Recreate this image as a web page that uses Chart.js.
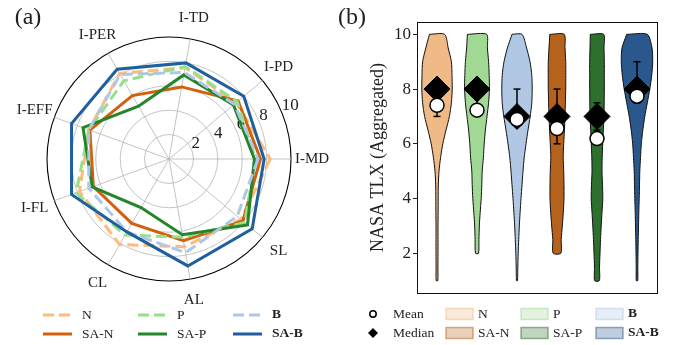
<!DOCTYPE html>
<html>
<head>
<meta charset="utf-8">
<script src="https://cdn.jsdelivr.net/npm/chart.js@4.4.0/dist/chart.umd.min.js"></script>
<style>
html, body { margin: 0; padding: 0; background: #fff; }
#wrap { position: relative; width: 673px; height: 345px; }
#radar { position: absolute; left: 0; top: 0; }
#violin { position: absolute; left: 336px; top: 0; }
</style>
</head>
<body>
<div id="wrap">
  <canvas id="radar" width="336" height="345"></canvas>
  <canvas id="violin" width="337" height="345"></canvas>
</div>
<script>
Chart.defaults.font.family = "'Liberation Serif', 'Times New Roman', serif";
Chart.defaults.color = '#222';

// (a) radar data, axes listed counter-clockwise starting on the right
const radarAxes = ['I-MD', 'I-PD', 'I-TD', 'I-PER', 'I-EFF', 'I-FL', 'CL', 'AL', 'SL'];
const radarTicks = [2, 4, 6, 8, 10];
const radarN   = [8.3, 7.2, 7.6, 8.1, 7.0, 7.8, 8.1, 7.3, 7.7];
const radarP   = [7.1, 7.3, 7.7, 7.4, 7.0, 8.1, 7.2, 6.5, 8.1];
const radarB   = [7.3, 7.0, 7.2, 8.0, 7.0, 7.0, 6.9, 7.8, 7.3];
const radarSAN = [7.5, 7.4, 6.0, 6.0, 6.9, 6.6, 6.1, 6.8, 7.9];
const radarSAP = [7.0, 6.9, 7.0, 5.0, 7.5, 6.7, 4.6, 6.3, 8.4];
const radarSAB = [7.8, 8.0, 8.0, 8.5, 8.5, 8.5, 6.9, 8.9, 8.9];

// (b) violin data
const violinCats = ['N', 'P', 'B', 'SA-N', 'SA-P', 'SA-B'];
const tlxTicks = [2, 4, 6, 8, 10];
const kdeLevels = [10, 9.5, 9, 8.5, 8, 7.5, 7, 6.5, 6, 5.5, 5, 4.5, 4, 3.5, 3, 2.5, 2, 1.5, 1];
const kdeN   = [0.19, 0.28, 0.36, 0.375, 0.38, 0.36, 0.31, 0.225, 0.145, 0.09, 0.05, 0.033, 0.03, 0.028, 0.025, 0.025, 0.025, 0.023, 0.02];
const kdeP   = [0.24, 0.26, 0.29, 0.305, 0.31, 0.29, 0.25, 0.21, 0.18, 0.16, 0.13, 0.12, 0.105, 0.08, 0.058, 0.048, 0.038];
const kdeB   = [0.125, 0.24, 0.325, 0.37, 0.38, 0.37, 0.33, 0.275, 0.225, 0.18, 0.15, 0.125, 0.1, 0.078, 0.058, 0.043, 0.03, 0.02, 0.013];
const kdeSAN = [0.18, 0.2, 0.218, 0.22, 0.218, 0.21, 0.2, 0.185, 0.168, 0.155, 0.168, 0.175, 0.175, 0.158, 0.133, 0.105, 0.095];
const kdeSAP = [0.168, 0.175, 0.183, 0.183, 0.183, 0.18, 0.175, 0.158, 0.143, 0.13, 0.125, 0.138, 0.145, 0.125, 0.105, 0.088, 0.075, 0.063, 0.058];
const kdeSAB = [0.258, 0.375, 0.393, 0.368, 0.32, 0.258, 0.195, 0.145, 0.108, 0.088, 0.07, 0.063, 0.055, 0.045, 0.038, 0.03, 0.025, 0.02, 0.018];
const tlxMean   = [7.41, 7.23, 6.89, 6.56, 6.19, 7.74];
const tlxMedian = [8, 8, 7, 7, 7, 8];
const tlxLow    = [7, 7.25, 7, 6, 6.5, 7.5];
const tlxHigh   = [8, 8.25, 8, 8, 7.5, 9];

// styles
const radarNames  = ['N', 'SA-N', 'P', 'SA-P', 'B', 'SA-B'];
const radarValues = [radarN, radarSAN, radarP, radarSAP, radarB, radarSAB];
const radarColors = ['#ffbb78', '#d2600c', '#98df8a', '#24852b', '#aec7e8', '#1f5f9f'];
const violinKde    = [kdeN, kdeP, kdeB, kdeSAN, kdeSAP, kdeSAB];
const violinColors = ['#f0ba87', '#a1d894', '#b0c8e4', '#b4621c', '#2d702d', '#2a588c'];
const serif = "'Liberation Serif', 'Times New Roman', serif";

// chart.js goes clockwise, the reference goes counter-clockwise
const cw = a => [a[0]].concat(a.slice(1).reverse());

function isBold(name) { return name === 'B' || name === 'SA-B'; }

const radarText = {
  id: 'radarText',
  beforeDatasetsDraw(chart) {
    const r = chart.scales.r;
    const ctx = chart.ctx;
    ctx.save();
    ctx.fillStyle = '#222';
    ctx.font = '15px ' + serif;
    ctx.textAlign = 'center';
    ctx.textBaseline = 'middle';
    const outer = r.getDistanceFromCenterForValue(10);
    chart.data.labels.forEach((lab, i) => {
      const p = r.getPointPosition(i, outer + 21);
      ctx.fillText(lab, p.x, p.y);
    });
    ctx.font = '17px ' + serif;
    ctx.textAlign = 'left';
    ctx.textBaseline = 'bottom';
    const a = 22.5 * Math.PI / 180;
    radarTicks.forEach(v => {
      const d = r.getDistanceFromCenterForValue(v);
      ctx.fillText(String(v), r.xCenter + d * Math.cos(a), r.yCenter - d * Math.sin(a) + 2);
    });
    ctx.restore();
  },
  afterDraw(chart) {
    const ctx = chart.ctx;
    ctx.save();
    ctx.fillStyle = '#222';
    ctx.font = '24px ' + serif;
    ctx.textAlign = 'center';
    ctx.textBaseline = 'middle';
    ctx.fillText('(a)', 28, 18);
    // legend, filled column by column
    const cols = [43, 138, 233];
    const rows = [315, 334];
    ctx.textAlign = 'left';
    radarNames.forEach((name, i) => {
      const x = cols[Math.floor(i / 2)], y = rows[i % 2];
      ctx.strokeStyle = radarColors[i];
      ctx.lineWidth = 3;
      ctx.setLineDash(name.startsWith('SA') ? [] : [11, 5]);
      ctx.beginPath();
      ctx.moveTo(x, y);
      ctx.lineTo(x + 29, y);
      ctx.stroke();
      ctx.fillStyle = '#222';
      ctx.font = (isBold(name) ? 'bold ' : '') + '13.5px ' + serif;
      ctx.fillText(name, x + 39, y);
    });
    ctx.restore();
  }
};

new Chart(document.getElementById('radar'), {
  type: 'radar',
  data: {
    labels: cw(radarAxes),
    datasets: radarNames.map((name, i) => ({
      label: name,
      data: cw(radarValues[i]),
      borderColor: radarColors[i],
      borderWidth: 3,
      borderDash: name.startsWith('SA') ? [] : [11, 5],
      fill: false,
      pointRadius: 0,
      tension: 0,
      order: 10 - i
    }))
  },
  options: {
    responsive: false,
    animation: false,
    layout: { padding: { left: 47, right: 45, top: 37, bottom: 64 } },
    plugins: { legend: { display: false }, tooltip: { enabled: false } },
    scales: {
      r: {
        min: 0,
        max: 10,
        startAngle: 90,
        ticks: { display: false, stepSize: 2 },
        pointLabels: { display: false },
        grid: {
          circular: true,
          color: c => c.tick && c.tick.value === 10 ? '#000' : '#b5b5b5',
          lineWidth: c => c.tick && c.tick.value === 10 ? 1.1 : 0.8
        },
        angleLines: { color: '#b5b5b5', lineWidth: 0.8 }
      }
    }
  },
  plugins: [radarText]
});

// violin outline as a closed polygon in data units
function outline(i, widths) {
  const left = [], right = [];
  widths.forEach((w, k) => {
    left.push({ x: i - w, y: kdeLevels[k] });
    right.push({ x: i + w, y: kdeLevels[k] });
  });
  return left.concat(right.reverse(), [left[0]]);
}

const violinDatasets = violinCats.map((cat, i) => ({
  label: cat,
  data: outline(i, violinKde[i]),
  borderColor: '#111',
  borderWidth: 1,
  backgroundColor: violinColors[i],
  fill: 'shape',
  pointRadius: 0,
  tension: 0.25,
  order: 10
}));

const errData = [];
violinCats.forEach((c, i) => {
  errData.push({ x: i, y: tlxLow[i] }, { x: i, y: tlxHigh[i] }, { x: i, y: null });
});

const violinText = {
  id: 'violinText',
  afterDraw(chart) {
    const ctx = chart.ctx;
    const a = chart.chartArea;
    ctx.save();
    ctx.strokeStyle = '#111';
    ctx.lineWidth = 1;
    ctx.strokeRect(a.left + 0.5, a.top + 0.5, a.right - a.left, a.bottom - a.top);

    ctx.fillStyle = '#222';
    ctx.font = '24px ' + serif;
    ctx.textAlign = 'center';
    ctx.textBaseline = 'middle';
    ctx.fillText('(b)', 16, 18);

    const rows = [314, 333];
    ctx.textAlign = 'left';
    ctx.font = '13.5px ' + serif;
    // mean / median markers
    ctx.lineWidth = 1.5;
    ctx.strokeStyle = '#000';
    ctx.fillStyle = '#fff';
    ctx.beginPath();
    ctx.arc(37, rows[0], 3.2, 0, Math.PI * 2);
    ctx.fill();
    ctx.stroke();
    ctx.fillStyle = '#000';
    ctx.beginPath();
    ctx.moveTo(32, rows[1]);
    ctx.lineTo(37, rows[1] - 5);
    ctx.lineTo(42, rows[1]);
    ctx.lineTo(37, rows[1] + 5);
    ctx.closePath();
    ctx.fill();
    ctx.fillStyle = '#222';
    ctx.fillText('Mean', 57, rows[0]);
    ctx.fillText('Median', 57, rows[1]);
    // patches, filled column by column
    const cols = [110, 185, 260];
    const order = [0, 3, 1, 4, 2, 5];
    order.forEach((k, j) => {
      const x = cols[Math.floor(j / 2)], y = rows[j % 2];
      ctx.globalAlpha = 0.3;
      ctx.fillStyle = violinColors[k];
      ctx.fillRect(x, y - 5.5, 27, 11);
      ctx.globalAlpha = 0.5;
      ctx.strokeStyle = violinColors[k];
      ctx.lineWidth = 1.5;
      ctx.strokeRect(x, y - 5.5, 27, 11);
      ctx.globalAlpha = 1;
      ctx.fillStyle = '#222';
      ctx.font = (isBold(violinCats[k]) ? 'bold ' : '') + '13.5px ' + serif;
      ctx.fillText(violinCats[k], x + 32, y);
    });
    ctx.restore();
  }
};

new Chart(document.getElementById('violin'), {
  type: 'line',
  data: {
    datasets: violinDatasets.concat([
      {
        label: 'spread',
        data: errData,
        borderColor: '#000',
        borderWidth: 1.5,
        pointStyle: 'line',
        pointRadius: 3.5,
        pointBorderWidth: 1.5,
        pointBorderColor: '#000',
        spanGaps: false,
        fill: false,
        order: 3
      },
      {
        label: 'Median',
        data: violinCats.map((c, i) => ({ x: i, y: tlxMedian[i] })),
        showLine: false,
        pointStyle: 'rectRot',
        pointRadius: 13,
        pointBackgroundColor: '#000',
        pointBorderColor: '#000',
        pointBorderWidth: 1,
        order: 2
      },
      {
        label: 'Mean',
        data: violinCats.map((c, i) => ({ x: i, y: tlxMean[i] })),
        showLine: false,
        pointStyle: 'circle',
        pointRadius: 7,
        pointBackgroundColor: '#fff',
        pointBorderColor: '#000',
        pointBorderWidth: 1.5,
        order: 1
      }
    ])
  },
  options: {
    responsive: false,
    animation: false,
    clip: false,
    layout: { padding: { left: 31, right: 16, top: 22, bottom: 52 } },
    plugins: { legend: { display: false }, tooltip: { enabled: false } },
    scales: {
      x: { type: 'linear', min: -0.5, max: 5.5, display: false },
      y: {
        min: 0.55,
        max: 10.45,
        afterBuildTicks: s => { s.ticks = tlxTicks.map(v => ({ value: v })); },
        afterFit: s => { s.width = 50; },
        ticks: { font: { size: 17 }, color: '#222', padding: 2 },
        grid: { drawOnChartArea: false, drawTicks: true, tickLength: 4, color: '#222', lineWidth: 1 },
        border: { display: true, color: '#111', width: 1 },
        title: { display: true, text: 'NASA TLX (Aggregated)', font: { size: 18 }, color: '#222', padding: 0 }
      }
    }
  },
  plugins: [violinText]
});
</script>
</body>
</html>
